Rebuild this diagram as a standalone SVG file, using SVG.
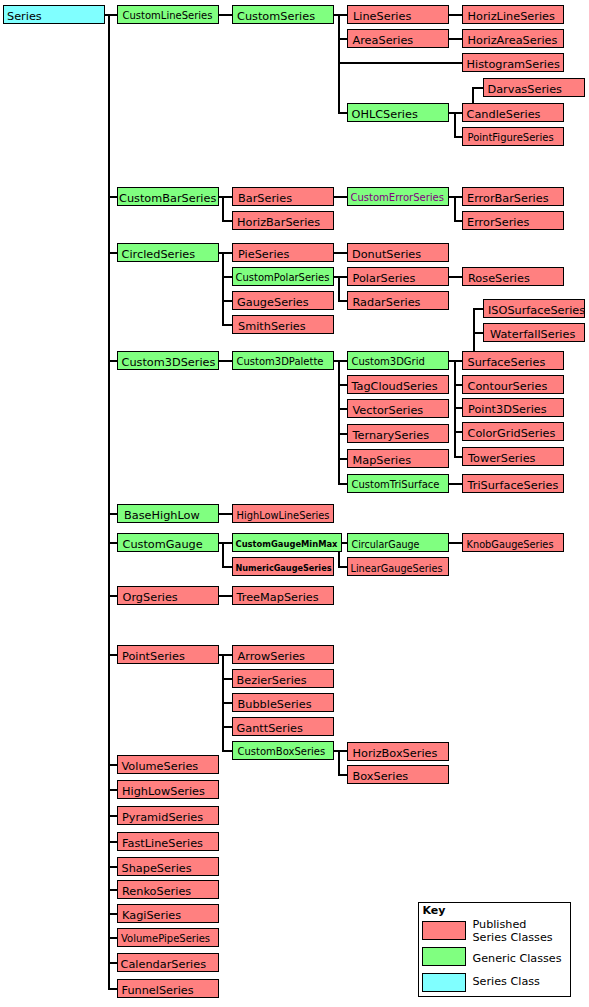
<svg xmlns="http://www.w3.org/2000/svg" width="589" height="1007" viewBox="0 0 589 1007">
<style>
rect{stroke:#000;stroke-width:1}
.r{fill:#FF8080}.g{fill:#80FF80}.c{fill:#80FFFF}
text{font-family:"DejaVu Sans","Verdana",sans-serif;fill:#000}
.t{font-size:11.3px}
.s{font-size:10px}
.b{font-size:9px;font-weight:bold}
.p{fill:#800080}
.k{font-size:11.2px}
.kb{font-size:11px;font-weight:bold}
#connectors path{fill:none;stroke:#000;stroke-width:2}
</style>
<rect width="589" height="1007" fill="#fff" style="stroke:none"/>
<g id="connectors">
<path d="M105,15H117 M109,15V989H117 M109,197H117 M109,253H117 M109,361H117 M109,514H117 M109,543H117 M109,596H117 M109,655H117 M109,765H117 M109,790H117 M109,816H117 M109,842H117 M109,867H117 M109,890H117 M109,914H117 M109,938H117 M109,963H117"/>
<path d="M219,15H232 M334,15H347 M339,15V113H347 M339,39H347 M339,63H462 M449,15H462 M449,39H462 M449,113H462 M455,113V137H462 M473,103V88H483"/>
<path d="M219,197H232 M223,197V221H232 M334,197H347 M449,197H462 M455,197V221H462"/>
<path d="M219,253H232 M223,253V325H232 M223,277H232 M223,301H232 M334,253H347 M334,277H347 M339,277V301H347 M449,277H462"/>
<path d="M219,361H232 M334,361H347 M339,361V484H347 M339,385H347 M339,409H347 M339,434H347 M339,459H347 M449,361H462 M455,361V457H462 M455,385H462 M455,408H462 M455,432H462 M474,351V309H483 M474,333H483 M449,484H462"/>
<path d="M219,514H232 M219,543H232 M223,543V567H232 M342,543H347 M339,552V567H347 M449,543H462 M219,596H232"/>
<path d="M219,655H232 M223,655V751H232 M223,679H232 M223,703H232 M223,727H232 M334,751H347 M339,751V775H347"/>
</g>
<g id="Series"><rect class="c" x="3.5" y="5.5" width="101" height="18"/><text class="t" x="7" y="19.5">Series</text></g>
<g id="CustomLineSeries"><rect class="g" x="117.5" y="5.5" width="101" height="18"/><text class="s" x="122.5" y="18.5">CustomLineSeries</text></g>
<g id="CustomSeries"><rect class="g" x="232.5" y="5.5" width="101" height="18"/><text class="t" x="237" y="19.5">CustomSeries</text></g>
<g id="LineSeries"><rect class="r" x="347.5" y="5.5" width="101" height="18"/><text class="t" x="353" y="19.5">LineSeries</text></g>
<g id="HorizLineSeries"><rect class="r" x="462.5" y="5.5" width="101" height="18"/><text class="t" x="467.5" y="19.5">HorizLineSeries</text></g>
<g id="AreaSeries"><rect class="r" x="347.5" y="29.5" width="101" height="18"/><text class="t" x="352.5" y="43.5">AreaSeries</text></g>
<g id="HorizAreaSeries"><rect class="r" x="462.5" y="29.5" width="101" height="18"/><text class="t" x="467.5" y="43.5">HorizAreaSeries</text></g>
<g id="HistogramSeries"><rect class="r" x="462.5" y="53.5" width="101" height="18"/><text class="t" x="466.5" y="67.5">HistogramSeries</text></g>
<g id="DarvasSeries"><rect class="r" x="483.5" y="78.5" width="101" height="18"/><text class="t" x="487.5" y="92.5">DarvasSeries</text></g>
<g id="OHLCSeries"><rect class="g" x="347.5" y="103.5" width="101" height="18"/><text class="t" x="351.5" y="117.5">OHLCSeries</text></g>
<g id="CandleSeries"><rect class="r" x="462.5" y="103.5" width="101" height="18"/><text class="t" x="466.5" y="117.5">CandleSeries</text></g>
<g id="PointFigureSeries"><rect class="r" x="462.5" y="127.5" width="101" height="18"/><text class="s" x="467.5" y="140.5">PointFigureSeries</text></g>
<g id="CustomBarSeries"><rect class="g" x="117.5" y="187.5" width="101" height="18"/><text class="t" x="119" y="201.5">CustomBarSeries</text></g>
<g id="BarSeries"><rect class="r" x="232.5" y="187.5" width="101" height="18"/><text class="t" x="238" y="201.5">BarSeries</text></g>
<g id="CustomErrorSeries"><rect class="g" x="347.5" y="187.5" width="101" height="18"/><text class="s p" x="350.5" y="200.5">CustomErrorSeries</text></g>
<g id="ErrorBarSeries"><rect class="r" x="462.5" y="187.5" width="101" height="18"/><text class="t" x="467" y="201.5">ErrorBarSeries</text></g>
<g id="HorizBarSeries"><rect class="r" x="232.5" y="211.5" width="101" height="18"/><text class="t" x="237" y="225.5">HorizBarSeries</text></g>
<g id="ErrorSeries"><rect class="r" x="462.5" y="211.5" width="101" height="18"/><text class="t" x="467" y="225.5">ErrorSeries</text></g>
<g id="CircledSeries"><rect class="g" x="117.5" y="243.5" width="101" height="18"/><text class="t" x="121.5" y="257.5">CircledSeries</text></g>
<g id="PieSeries"><rect class="r" x="232.5" y="243.5" width="101" height="18"/><text class="t" x="238" y="257.5">PieSeries</text></g>
<g id="DonutSeries"><rect class="r" x="347.5" y="243.5" width="101" height="18"/><text class="t" x="352" y="257.5">DonutSeries</text></g>
<g id="CustomPolarSeries"><rect class="g" x="232.5" y="267.5" width="101" height="18"/><text class="s" x="235.5" y="281">CustomPolarSeries</text></g>
<g id="PolarSeries"><rect class="r" x="347.5" y="267.5" width="101" height="18"/><text class="t" x="352.5" y="281.5">PolarSeries</text></g>
<g id="RoseSeries"><rect class="r" x="462.5" y="267.5" width="101" height="18"/><text class="t" x="468" y="281.5">RoseSeries</text></g>
<g id="GaugeSeries"><rect class="r" x="232.5" y="291.5" width="101" height="18"/><text class="t" x="237" y="305.5">GaugeSeries</text></g>
<g id="RadarSeries"><rect class="r" x="347.5" y="291.5" width="101" height="18"/><text class="t" x="352.5" y="305.5">RadarSeries</text></g>
<g id="SmithSeries"><rect class="r" x="232.5" y="315.5" width="101" height="18"/><text class="t" x="238" y="329.5">SmithSeries</text></g>
<g id="ISOSurfaceSeries"><rect class="r" x="483.5" y="299.5" width="101" height="18"/><text class="t" x="488" y="313.5">ISOSurfaceSeries</text></g>
<g id="WaterfallSeries"><rect class="r" x="483.5" y="323.5" width="101" height="18"/><text class="t" x="490" y="337.5">WaterfallSeries</text></g>
<g id="Custom3DSeries"><rect class="g" x="117.5" y="351.5" width="101" height="18"/><text class="t" x="121.5" y="365.5">Custom3DSeries</text></g>
<g id="Custom3DPalette"><rect class="g" x="232.5" y="351.5" width="101" height="18"/><text class="s" x="236.5" y="364.5">Custom3DPalette</text></g>
<g id="Custom3DGrid"><rect class="g" x="347.5" y="351.5" width="101" height="18"/><text class="s" x="351.5" y="364.5">Custom3DGrid</text></g>
<g id="SurfaceSeries"><rect class="r" x="462.5" y="351.5" width="101" height="18"/><text class="t" x="467.5" y="365.5">SurfaceSeries</text></g>
<g id="TagCloudSeries"><rect class="r" x="347.5" y="375.5" width="101" height="18"/><text class="t" x="351.5" y="389.5">TagCloudSeries</text></g>
<g id="ContourSeries"><rect class="r" x="462.5" y="375.5" width="101" height="18"/><text class="t" x="467.5" y="389.5">ContourSeries</text></g>
<g id="VectorSeries"><rect class="r" x="347.5" y="399.5" width="101" height="18"/><text class="t" x="352.5" y="413.5">VectorSeries</text></g>
<g id="Point3DSeries"><rect class="r" x="462.5" y="398.5" width="101" height="18"/><text class="t" x="468" y="412.5">Point3DSeries</text></g>
<g id="TernarySeries"><rect class="r" x="347.5" y="424.5" width="101" height="18"/><text class="t" x="352.5" y="438.5">TernarySeries</text></g>
<g id="ColorGridSeries"><rect class="r" x="462.5" y="422.5" width="101" height="18"/><text class="t" x="467.5" y="436.5">ColorGridSeries</text></g>
<g id="MapSeries"><rect class="r" x="347.5" y="449.5" width="101" height="18"/><text class="t" x="352.5" y="463.5">MapSeries</text></g>
<g id="TowerSeries"><rect class="r" x="462.5" y="447.5" width="101" height="18"/><text class="t" x="468" y="461.5">TowerSeries</text></g>
<g id="CustomTriSurface"><rect class="g" x="347.5" y="474.5" width="101" height="18"/><text class="s" x="351.5" y="487.5">CustomTriSurface</text></g>
<g id="TriSurfaceSeries"><rect class="r" x="462.5" y="474.5" width="101" height="18"/><text class="t" x="467.5" y="488.5">TriSurfaceSeries</text></g>
<g id="BaseHighLow"><rect class="g" x="117.5" y="504.5" width="101" height="18"/><text class="t" x="124" y="518.5">BaseHighLow</text></g>
<g id="HighLowLineSeries"><rect class="r" x="232.5" y="504.5" width="101" height="18"/><text class="t" x="236.5" y="518.5" textLength="93" lengthAdjust="spacingAndGlyphs">HighLowLineSeries</text></g>
<g id="CustomGauge"><rect class="g" x="117.5" y="533.5" width="101" height="18"/><text class="t" x="122.5" y="547.5">CustomGauge</text></g>
<g id="CustomGaugeMinMax"><rect class="g" x="232.5" y="533.5" width="109" height="18"/><text class="b" x="235.5" y="546.5" textLength="102" lengthAdjust="spacingAndGlyphs">CustomGaugeMinMax</text></g>
<g id="CircularGauge"><rect class="g" x="347.5" y="533.5" width="101" height="18"/><text class="t" x="351.5" y="547.5" textLength="68" lengthAdjust="spacingAndGlyphs">CircularGauge</text></g>
<g id="KnobGaugeSeries"><rect class="r" x="462.5" y="533.5" width="101" height="18"/><text class="t" x="466.5" y="547.5" textLength="87" lengthAdjust="spacingAndGlyphs">KnobGaugeSeries</text></g>
<g id="NumericGaugeSeries"><rect class="r" x="232.5" y="557.5" width="101" height="18"/><text class="b" x="235.5" y="570.5" textLength="96" lengthAdjust="spacingAndGlyphs">NumericGaugeSeries</text></g>
<g id="LinearGaugeSeries"><rect class="r" x="347.5" y="557.5" width="101" height="18"/><text class="t" x="350.5" y="571.5" textLength="92" lengthAdjust="spacingAndGlyphs">LinearGaugeSeries</text></g>
<g id="OrgSeries"><rect class="r" x="117.5" y="586.5" width="101" height="18"/><text class="t" x="122.5" y="600.5">OrgSeries</text></g>
<g id="TreeMapSeries"><rect class="r" x="232.5" y="586.5" width="101" height="18"/><text class="t" x="236.5" y="600.5">TreeMapSeries</text></g>
<g id="PointSeries"><rect class="r" x="117.5" y="645.5" width="101" height="18"/><text class="t" x="122" y="659.5">PointSeries</text></g>
<g id="ArrowSeries"><rect class="r" x="232.5" y="645.5" width="101" height="18"/><text class="t" x="237.5" y="659.5">ArrowSeries</text></g>
<g id="BezierSeries"><rect class="r" x="232.5" y="669.5" width="101" height="18"/><text class="t" x="236.5" y="683.5">BezierSeries</text></g>
<g id="BubbleSeries"><rect class="r" x="232.5" y="693.5" width="101" height="18"/><text class="t" x="237.5" y="707.5">BubbleSeries</text></g>
<g id="GanttSeries"><rect class="r" x="232.5" y="717.5" width="101" height="18"/><text class="t" x="236.5" y="731.5">GanttSeries</text></g>
<g id="CustomBoxSeries"><rect class="g" x="232.5" y="741.5" width="101" height="18"/><text class="s" x="237.5" y="754.5">CustomBoxSeries</text></g>
<g id="HorizBoxSeries"><rect class="r" x="347.5" y="742.5" width="101" height="18"/><text class="t" x="352.5" y="756.5">HorizBoxSeries</text></g>
<g id="BoxSeries"><rect class="r" x="347.5" y="765.5" width="101" height="18"/><text class="t" x="352.5" y="779.5">BoxSeries</text></g>
<g id="VolumeSeries"><rect class="r" x="117.5" y="755.5" width="101" height="18"/><text class="t" x="121.5" y="769.5">VolumeSeries</text></g>
<g id="HighLowSeries"><rect class="r" x="117.5" y="780.5" width="101" height="18"/><text class="t" x="122" y="794.5">HighLowSeries</text></g>
<g id="PyramidSeries"><rect class="r" x="117.5" y="806.5" width="101" height="18"/><text class="t" x="122" y="820.5">PyramidSeries</text></g>
<g id="FastLineSeries"><rect class="r" x="117.5" y="832.5" width="101" height="18"/><text class="t" x="122" y="846.5">FastLineSeries</text></g>
<g id="ShapeSeries"><rect class="r" x="117.5" y="857.5" width="101" height="18"/><text class="t" x="121.5" y="871.5">ShapeSeries</text></g>
<g id="RenkoSeries"><rect class="r" x="117.5" y="880.5" width="101" height="18"/><text class="t" x="122" y="894.5">RenkoSeries</text></g>
<g id="KagiSeries"><rect class="r" x="117.5" y="904.5" width="101" height="18"/><text class="t" x="122" y="918.5">KagiSeries</text></g>
<g id="VolumePipeSeries"><rect class="r" x="117.5" y="928.5" width="101" height="18"/><text class="s" x="121" y="941.5">VolumePipeSeries</text></g>
<g id="CalendarSeries"><rect class="r" x="117.5" y="953.5" width="101" height="18"/><text class="t" x="120.5" y="967.5">CalendarSeries</text></g>
<g id="FunnelSeries"><rect class="r" x="117.5" y="979.5" width="101" height="18"/><text class="t" x="121.5" y="993.5">FunnelSeries</text></g>
<g id="Key">
<rect x="418.5" y="902.5" width="152" height="94" fill="#fff"/>
<text class="kb" x="422.5" y="913.5">Key</text>
<rect class="r" x="422.5" y="921.5" width="43" height="18"/>
<rect class="g" x="422.5" y="947.5" width="43" height="18"/>
<rect class="c" x="422.5" y="973.5" width="43" height="18"/>
<text class="k" x="472.5" y="927.5">Published</text>
<text class="k" x="472.5" y="940.5">Series Classes</text>
<text class="k" x="472.5" y="961.5">Generic Classes</text>
<text class="k" x="472.5" y="984.5">Series Class</text>
</g>
</svg>
